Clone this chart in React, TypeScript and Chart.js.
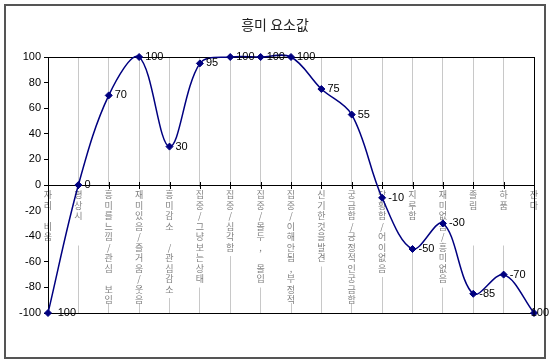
import React, { useEffect, useRef } from 'react';
import { Chart, registerables } from 'chart.js';

Chart.register(...registerables);

const TITLE = '흥미 요소값';
const CATEGORIES = [
  '자리 비움',
  '평상시',
  '흥미를느낌/관심 보임',
  '재미있음/즐거움/웃음',
  '흥미감소 /관심감소',
  '집중/그냥보는상태',
  '집중/심각함',
  '집중/몰두, 몰입',
  '집중/이해안됨,부정적',
  '신기한것을발견',
  '궁금함/긍정적인궁금함',
  '당황함/어이없음',
  '지루함',
  '재미없음/흥미없음',
  '졸림',
  '하품',
  '잔다',
];
const VALUES = [-100, 0, 70, 100, 30, 95, 100, 100, 100, 75, 55, -10, -50, -30, -85, -70, -100];
const Y_MIN = -100;
const Y_MAX = 100;
const Y_STEP = 20;

const LINE_H = 10.5;

const decor = {
  id: 'decor',
  beforeDraw(chart: any) {
    const ctx = chart.ctx;
    ctx.save();
    ctx.fillStyle = '#fff';
    ctx.fillRect(0, 0, chart.width, chart.height);
    ctx.strokeStyle = '#555';
    ctx.lineWidth = 2;
    ctx.strokeRect(5, 5, chart.width - 10, chart.height - 7);
    ctx.fillStyle = '#222';
    ctx.font = '14px "Noto Sans CJK KR"';
    ctx.textAlign = 'center';
    ctx.textBaseline = 'middle';
    ctx.fillText(TITLE, chart.width / 2, 25);
    ctx.restore();
  },
  beforeDatasetsDraw(chart: any) {
    const { ctx, chartArea: a, scales } = chart;
    const x = scales.x;
    const y = scales.y;
    const y0 = Math.round(y.getPixelForValue(0));
    ctx.save();
    // category labels, stacked vertically under the zero line
    ctx.font = '9px "Noto Sans CJK KR"';
    ctx.textAlign = 'center';
    ctx.textBaseline = 'middle';
    CATEGORIES.forEach((label, i) => {
      const px = x.getPixelForTick(i);
      const chars = Array.from(label);
      const h = Math.max(chars.length, 5) * LINE_H + 6;
      ctx.fillStyle = '#fff';
      ctx.fillRect(px - 6, y0 + 2, 12, Math.min(h, a.bottom - y0 - 12));
      ctx.fillStyle = '#808080';
      chars.forEach((c, j) => {
        ctx.fillText(c, px, y0 + 10 + j * LINE_H);
      });
    });
    // plot-area border
    ctx.strokeStyle = '#000';
    ctx.lineWidth = 1;
    ctx.strokeRect(Math.round(a.left) + 0.5, Math.round(a.top) + 0.5, Math.round(a.right - a.left), Math.round(a.bottom - a.top));
    // zero axis line + crossing ticks
    ctx.beginPath();
    ctx.moveTo(a.left, y0 + 0.5);
    ctx.lineTo(a.right, y0 + 0.5);
    x.ticks.forEach((_: any, i: number) => {
      const px = Math.round(x.getPixelForTick(i)) + 0.5;
      ctx.moveTo(px, y0 - 3);
      ctx.lineTo(px, y0 + 4);
    });
    ctx.stroke();
    ctx.restore();
  },
  afterDatasetsDraw(chart: any) {
    const ctx = chart.ctx;
    const meta = chart.getDatasetMeta(0);
    ctx.save();
    ctx.fillStyle = '#000';
    ctx.font = '11px "Liberation Sans", Arial, sans-serif';
    ctx.textAlign = 'left';
    ctx.textBaseline = 'middle';
    meta.data.forEach((pt: any, i: number) => {
      const t = String(VALUES[i]);
      const w = ctx.measureText(t).width;
      const tx = Math.min(pt.x + 6, chart.width - 1 - w);
      ctx.fillText(t, tx, pt.y);
    });
    ctx.restore();
  },
};

export default function App() {
  const ref = useRef<HTMLCanvasElement | null>(null);
  useEffect(() => {
    if (!ref.current) return;
    const chart = new Chart(ref.current, {
      type: 'line',
      data: {
        labels: CATEGORIES,
        datasets: [
          {
            data: VALUES,
            borderColor: '#000080',
            backgroundColor: '#000080',
            borderWidth: 1.5,
            tension: 0.35,
            pointStyle: 'rectRot',
            pointRadius: 3.5,
            pointBackgroundColor: '#000080',
            pointBorderColor: '#000080',
            pointBorderWidth: 1,
            clip: false as any,
            fill: false,
          },
        ],
      },
      options: {
        responsive: false,
        animation: false,
        devicePixelRatio: 1,
        layout: { padding: { top: 57, left: 8, right: 16, bottom: 47 } },
        elements: { line: { capBezierPoints: false } },
        plugins: {
          legend: { display: false },
          title: { display: false },
          tooltip: { enabled: false },
        },
        scales: {
          x: {
            type: 'category',
            position: { y: 0 } as any,
            offset: false,
            grid: { color: '#c8c8c8', lineWidth: 1, drawTicks: false },
            border: { display: false },
            ticks: { display: false, autoSkip: false },
          },
          y: {
            min: Y_MIN,
            max: Y_MAX,
            ticks: {
              stepSize: Y_STEP,
              color: '#000',
              font: { family: '"Liberation Sans", Arial', size: 11 },
              padding: 3,
            },
            grid: { drawOnChartArea: false, tickLength: 4, tickColor: '#000' },
            border: { color: '#000', width: 1 },
            afterFit: (s: any) => {
              s.width = 40;
            },
          },
        },
      },
      plugins: [decor],
    });
    return () => chart.destroy();
  }, []);
  return (
    <div style={{ position: 'absolute', left: 0, top: 0, width: 550, height: 360 }}>
      <canvas ref={ref} width={550} height={360} style={{ display: 'block' }} />
    </div>
  );
}
